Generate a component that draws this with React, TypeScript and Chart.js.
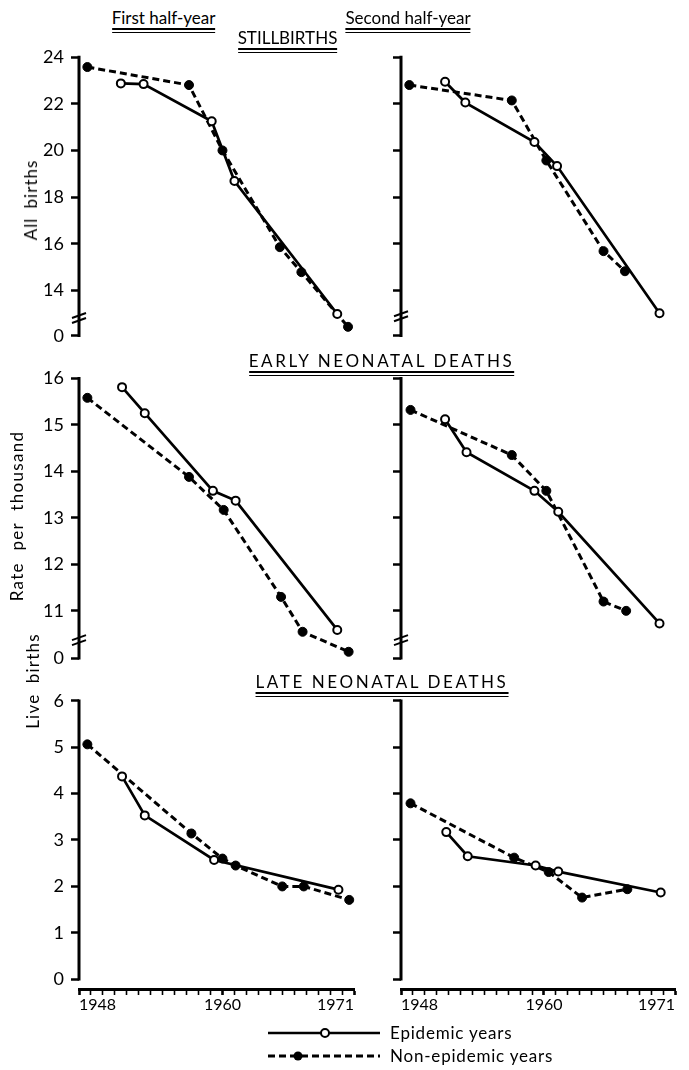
import React, { useEffect, useRef } from "react";
import { Chart, registerables } from "chart.js";

Chart.register(...registerables);

const FONT = "Lato, 'DejaVu Sans', sans-serif";

// ---------- data ----------
const yearMin = 1948;
const yearMax = 1971;
const xLabelYears = [1948, 1960, 1971];

const stillTicks = [14, 16, 18, 20, 22, 24];
const earlyTicks = [11, 12, 13, 14, 15, 16];
const lateTicks = [0, 1, 2, 3, 4, 5, 6];

// Stillbirths, first half-year
const still1EpiYears = [1951.5, 1953.4, 1959.1, 1961.0, 1969.6];
const still1Epi = [22.87, 22.84, 21.25, 18.69, 13.0];
const still1NonYears = [1948.7, 1957.2, 1960.0, 1964.8, 1966.6, 1970.5];
const still1Non = [23.57, 22.8, 20.0, 15.86, 14.79, 12.45];

// Stillbirths, second half-year
const still2EpiYears = [1951.7, 1953.4, 1959.2, 1961.1, 1969.7];
const still2Epi = [22.94, 22.05, 20.36, 19.33, 13.03];
const still2NonYears = [1948.7, 1957.3, 1960.2, 1965.0, 1966.8];
const still2Non = [22.8, 22.14, 19.57, 15.69, 14.83];

// Early neonatal deaths, first half-year
const early1EpiYears = [1951.6, 1953.5, 1959.2, 1961.1, 1969.6];
const early1Epi = [15.81, 15.25, 13.58, 13.37, 10.59];
const early1NonYears = [1948.7, 1957.2, 1960.1, 1964.9, 1966.7, 1970.55];
const early1Non = [15.58, 13.88, 13.17, 11.3, 10.55, 10.12];

// Early neonatal deaths, second half-year
const early2EpiYears = [1951.7, 1953.5, 1959.2, 1961.2, 1969.7];
const early2Epi = [15.12, 14.41, 13.58, 13.13, 10.73];
const early2NonYears = [1948.8, 1957.3, 1960.2, 1965.0, 1966.9];
const early2Non = [15.32, 14.35, 13.58, 11.2, 11.0];

// Late neonatal deaths, first half-year
const late1EpiYears = [1951.6, 1953.5, 1959.3, 1969.7];
const late1Epi = [4.37, 3.53, 2.57, 1.93];
const late1NonYears = [1948.7, 1957.4, 1960.0, 1961.1, 1965.0, 1966.8, 1970.6];
const late1Non = [5.06, 3.14, 2.6, 2.45, 2.0, 2.0, 1.71];

// Late neonatal deaths, second half-year
const late2EpiYears = [1951.8, 1953.6, 1959.3, 1961.2, 1969.8];
const late2Epi = [3.17, 2.65, 2.45, 2.32, 1.87];
const late2NonYears = [1948.8, 1957.5, 1960.4, 1963.2, 1967.0];
const late2Non = [3.79, 2.62, 2.31, 1.76, 1.94];

// ---------- plugin: y axis line, hooks & break marks ----------
const axisFrame = {
  id: "axisFrame",
  afterDraw(chart: any, _args: any, opts: any) {
    if (!opts || opts.zeroValue === undefined) return;
    const y = chart.scales.y;
    const ctx = chart.ctx;
    const x0 = chart.chartArea.left;
    const top = y.getPixelForValue(y.max);
    const bottom = y.getPixelForValue(opts.zeroValue);
    ctx.save();
    ctx.strokeStyle = "#000";
    ctx.lineWidth = 3;
    ctx.beginPath();
    ctx.moveTo(x0, top - 1.2);
    ctx.lineTo(x0, bottom + 1.2);
    ctx.stroke();
    if (opts.breakAt !== undefined && opts.breakAt !== null) {
      const yb = y.getPixelForValue(opts.breakAt);
      ctx.lineWidth = 2;
      for (const d of [-2.5, 2.5]) {
        ctx.beginPath();
        ctx.moveTo(x0 - 7, yb + d + 2.5);
        ctx.lineTo(x0 + 7, yb + d - 2.5);
        ctx.stroke();
      }
    }
    ctx.restore();
  },
};
Chart.register(axisFrame);

type PanelProps = {
  left: number;
  top: number;
  width: number;
  height: number;
  padding: { left: number; right: number; top: number; bottom: number };
  yAxisWidth: number;
  yMin: number;
  yMax: number;
  ticks: number[];
  zeroValue: number;
  breakAt?: number;
  showLabels: boolean;
  showX: boolean;
  epiX: number[];
  epiY: number[];
  nonX: number[];
  nonY: number[];
};

function Panel(p: PanelProps) {
  const ref = useRef<HTMLCanvasElement>(null);
  useEffect(() => {
    if (!ref.current) return;
    const years: number[] = [];
    for (let v = yearMin; v <= yearMax; v++) years.push(v);
    const yTickVals = Array.from(new Set([p.zeroValue, ...p.ticks]));
    const chart = new Chart(ref.current, {
      type: "line",
      data: {
        datasets: [
          {
            label: "Epidemic years",
            data: p.epiX.map((x, i) => ({ x, y: p.epiY[i] })),
            borderColor: "#000",
            borderWidth: 2.7,
            pointRadius: 4,
            pointBackgroundColor: "#fff",
            pointBorderColor: "#000",
            pointBorderWidth: 2,
            clip: false,
            tension: 0,
          } as any,
          {
            label: "Non-epidemic years",
            data: p.nonX.map((x, i) => ({ x, y: p.nonY[i] })),
            borderColor: "#000",
            borderWidth: 3,
            borderDash: [7, 4],
            pointRadius: 4.5,
            pointBackgroundColor: "#000",
            pointBorderColor: "#000",
            pointBorderWidth: 1,
            clip: false,
            tension: 0,
          } as any,
        ],
      },
      options: {
        animation: false,
        responsive: false,
        maintainAspectRatio: false,
        layout: { padding: p.padding },
        plugins: {
          legend: { display: false },
          tooltip: { enabled: false },
          axisFrame: { zeroValue: p.zeroValue, breakAt: p.breakAt },
        } as any,
        scales: {
          x: {
            type: "linear",
            min: yearMin,
            max: yearMax,
            display: p.showX,
            afterBuildTicks: (s: any) => {
              s.ticks = years.map((v) => ({ value: v }));
            },
            afterFit: (s: any) => {
              if (p.showX) s.height = 30;
            },
            ticks: {
              autoSkip: false,
              maxRotation: 0,
              align: "inner",
              padding: 0,
              color: "#000",
              font: { family: FONT, size: 16 },
              callback: (v: any) => (xLabelYears.includes(Number(v)) ? String(v) : ""),
            },
            grid: {
              drawOnChartArea: false,
              drawTicks: true,
              tickLength: 6,
              tickColor: "#000",
              tickWidth: (ctx: any) =>
                ctx.tick && xLabelYears.includes(ctx.tick.value) ? 2.6 : 1.6,
            },
            border: { display: true, width: 3, color: "#000" },
          } as any,
          y: {
            type: "linear",
            min: p.yMin,
            max: p.yMax,
            afterBuildTicks: (s: any) => {
              s.ticks = yTickVals.map((v) => ({ value: v }));
            },
            afterFit: (s: any) => {
              s.width = p.yAxisWidth;
            },
            ticks: {
              display: p.showLabels,
              padding: 7,
              color: "#000",
              font: { family: FONT, size: 18 },
              callback: (v: any) =>
                Math.abs(Number(v) - p.zeroValue) < 1e-6 ? "0" : String(v),
            },
            grid: {
              drawOnChartArea: false,
              drawTicks: true,
              tickLength: 8,
              tickWidth: 2.5,
              tickColor: "#000",
            },
            border: { display: false },
          } as any,
        },
      },
    });
    return () => chart.destroy();
  }, []);
  return (
    <canvas
      ref={ref}
      width={p.width}
      height={p.height}
      style={{ position: "absolute", left: p.left, top: p.top, width: p.width, height: p.height }}
    />
  );
}

function Title({ text, cx, top, spacing = 0 }: { text: string; cx: number; top: number; spacing?: number }) {
  return (
    <div
      style={{
        position: "absolute",
        left: cx,
        top,
        transform: "translateX(-50%)",
        whiteSpace: "nowrap",
        fontFamily: FONT,
        fontSize: 17,
        lineHeight: "18px",
        letterSpacing: spacing,
        color: "#000",
      }}
    >
      <div style={{ borderBottom: "1.2px solid #000", paddingBottom: 1.5 }}>
        <div style={{ borderBottom: "2.6px solid #000", paddingBottom: 1 }}>{text}</div>
      </div>
    </div>
  );
}

function VText({ text, cx, cy, spacing = 0, wordSpacing = 0 }: { text: string; cx: number; cy: number; spacing?: number; wordSpacing?: number }) {
  return (
    <div
      style={{
        position: "absolute",
        left: cx,
        top: cy,
        transform: "translate(-50%, -50%) rotate(-90deg)",
        whiteSpace: "nowrap",
        fontFamily: FONT,
        fontSize: 17,
        lineHeight: "18px",
        letterSpacing: spacing,
        wordSpacing,
        color: "#000",
      }}
    >
      {text}
    </div>
  );
}

export default function App() {
  const leftBase = { left: 0, width: 362, yAxisWidth: 79, showLabels: true };
  const rightBase = { left: 330, width: 359, yAxisWidth: 71, showLabels: false };
  const padL = { left: 0, right: 8 };
  const padR = { left: 0, right: 14 };
  const padTop = { top: 20, bottom: 20.3 };
  const padMid = { top: 20.3, bottom: 19.7 };
  const padBot = { top: 20.7, bottom: 6 };
  return (
    <div style={{ position: "absolute", left: 0, top: 0, width: 689, height: 1070, background: "#fff" }}>
      {/* Stillbirths */}
      <Panel {...leftBase} top={37} height={319} padding={{ ...padL, ...padTop }}
        yMin={12.07} yMax={24} ticks={stillTicks} zeroValue={12.07} breakAt={12.83} showX={false}
        epiX={still1EpiYears} epiY={still1Epi} nonX={still1NonYears} nonY={still1Non} />
      <Panel {...rightBase} top={37} height={319} padding={{ ...padR, ...padTop }}
        yMin={12.07} yMax={24} ticks={stillTicks} zeroValue={12.07} breakAt={12.9} showX={false}
        epiX={still2EpiYears} epiY={still2Epi} nonX={still2NonYears} nonY={still2Non} />
      {/* Early neonatal */}
      <Panel {...leftBase} top={358} height={320} padding={{ ...padL, ...padMid }}
        yMin={9.98} yMax={16} ticks={earlyTicks} zeroValue={9.98} breakAt={10.37} showX={false}
        epiX={early1EpiYears} epiY={early1Epi} nonX={early1NonYears} nonY={early1Non} />
      <Panel {...rightBase} top={358} height={320} padding={{ ...padR, ...padMid }}
        yMin={9.98} yMax={16} ticks={earlyTicks} zeroValue={9.98} breakAt={10.37} showX={false}
        epiX={early2EpiYears} epiY={early2Epi} nonX={early2NonYears} nonY={early2Non} />
      {/* Late neonatal */}
      <Panel {...leftBase} top={680} height={345} padding={{ ...padL, ...padBot }}
        yMin={-0.209} yMax={6} ticks={lateTicks} zeroValue={0} showX={true}
        epiX={late1EpiYears} epiY={late1Epi} nonX={late1NonYears} nonY={late1Non} />
      <Panel {...rightBase} top={680} height={345} padding={{ ...padR, ...padBot }}
        yMin={-0.209} yMax={6} ticks={lateTicks} zeroValue={0} showX={true}
        epiX={late2EpiYears} epiY={late2Epi} nonX={late2NonYears} nonY={late2Non} />

      <Title text="First half-year" cx={163.5} top={9} />
      <Title text="Second half-year" cx={408} top={9} />
      <Title text="STILLBIRTHS" cx={287.5} top={29} />
      <Title text="EARLY NEONATAL DEATHS" cx={381.5} top={352} spacing={2.6} />
      <Title text="LATE NEONATAL DEATHS" cx={382} top={673} spacing={2.6} />

      <VText text="All births" cx={31} cy={200} spacing={1} wordSpacing={4} />
      <VText text="Rate per thousand" cx={17} cy={516} spacing={1.3} wordSpacing={6} />
      <VText text="Live births" cx={33} cy={681} spacing={1.2} wordSpacing={5} />

      <svg style={{ position: "absolute", left: 260, top: 1020, width: 130, height: 48 }} width={130} height={48}>
        <line x1={8} y1={13} x2={120} y2={13} stroke="#000" strokeWidth={2.7} />
        <circle cx={65} cy={13} r={4} fill="#fff" stroke="#000" strokeWidth={2} />
        <line x1={8} y1={36} x2={120} y2={36} stroke="#000" strokeWidth={3} strokeDasharray="7 4" />
        <circle cx={38} cy={36} r={4.5} fill="#000" />
      </svg>
      <div style={{ position: "absolute", left: 390, top: 1023, fontFamily: FONT, fontSize: 17, lineHeight: "20px", letterSpacing: 0.8, whiteSpace: "nowrap" }}>
        Epidemic years
      </div>
      <div style={{ position: "absolute", left: 390, top: 1046, fontFamily: FONT, fontSize: 17, lineHeight: "20px", letterSpacing: 0.8, whiteSpace: "nowrap" }}>
        Non-epidemic years
      </div>
    </div>
  );
}
